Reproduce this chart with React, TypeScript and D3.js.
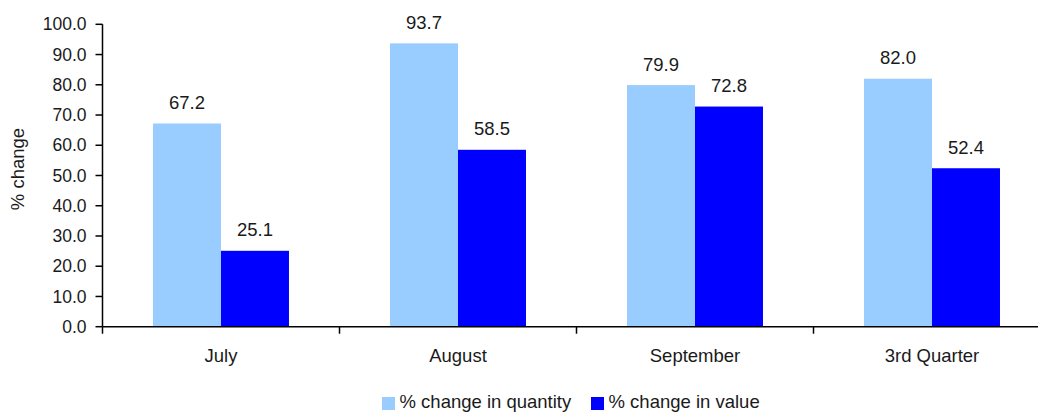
import React from "react";
import * as d3 from "d3";

const categories = ["July", "August", "September", "3rd Quarter"];
const seriesNames = ["% change in quantity", "% change in value"];
const quantityChange = [67.2, 93.7, 79.9, 82.0];
const valueChange = [25.1, 58.5, 72.8, 52.4];
const yTicks = [0, 10, 20, 30, 40, 50, 60, 70, 80, 90, 100];
const colors = ["#99CCFF", "#0000FF"];

const W = 1038;
const H = 412;
const FONT = "'Liberation Sans', Arial, sans-serif";

export default function App() {
  const left = 102.5;
  const x = d3.scaleBand<string>().domain(categories).range([left, left + 237 * 4]).padding(0);
  const y = d3.scaleLinear().domain([0, 100]).range([326.7, 24.3]);
  const inner = d3
    .scaleBand<string>()
    .domain(seriesNames)
    .range([0, x.bandwidth()])
    .paddingInner(0)
    .paddingOuter(0.743);

  const series = [quantityChange, valueChange];
  const axisY = y(0);
  const textColor = "#1a1a1a";
  const legendX = [382, 591];

  return (
    <svg
      width={W}
      height={H}
      style={{ position: "absolute", left: 0, top: 0, background: "#fff" }}
      fontFamily={FONT}
    >
      {/* bars and value labels */}
      {categories.map((c, i) =>
        series.map((vals, s) => {
          const bx = (x(c) ?? 0) + (inner(seriesNames[s]) ?? 0);
          const bw = inner.bandwidth();
          const v = vals[i];
          return (
            <g key={`${c}-${s}`}>
              <rect x={bx} y={y(v)} width={bw} height={axisY - y(v)} fill={colors[s]} />
              <text
                x={bx + bw / 2}
                y={y(v) - 14.5}
                textAnchor="middle"
                fontSize={18.5}
                fill={textColor}
              >
                {v.toFixed(1)}
              </text>
            </g>
          );
        })
      )}

      {/* y axis */}
      <line x1={left} x2={left} y1={y(100)} y2={axisY} stroke="#000" strokeWidth={1.5} />
      {yTicks.map((t) => (
        <g key={t}>
          <line x1={left - 7} x2={left} y1={y(t)} y2={y(t)} stroke="#000" strokeWidth={1.5} />
          <text
            x={left - 16}
            y={y(t)}
            dy="0.35em"
            textAnchor="end"
            fontSize={17.5}
            fill={textColor}
          >
            {t.toFixed(1)}
          </text>
        </g>
      ))}
      <text
        transform={`translate(24,169) rotate(-90)`}
        textAnchor="middle"
        fontSize={18.5}
        fill={textColor}
      >
        % change
      </text>

      {/* x axis */}
      <line x1={left} x2={W} y1={axisY} y2={axisY} stroke="#000" strokeWidth={1.5} />
      {categories.map((c, i) => (
        <line
          key={`t${i}`}
          x1={x(c) ?? 0}
          x2={x(c) ?? 0}
          y1={axisY}
          y2={axisY + 7}
          stroke="#000"
          strokeWidth={1.5}
        />
      ))}
      {categories.map((c) => (
        <text
          key={c}
          x={(x(c) ?? 0) + x.bandwidth() / 2}
          y={362}
          textAnchor="middle"
          fontSize={18.5}
          fill={textColor}
        >
          {c}
        </text>
      ))}

      {/* legend */}
      {seriesNames.map((n, s) => (
        <g key={n}>
          <rect x={legendX[s]} y={397} width={13} height={13} fill={colors[s]} />
          <text x={legendX[s] + 17.5} y={408} fontSize={18.5} fill={textColor}>
            {n}
          </text>
        </g>
      ))}
    </svg>
  );
}
